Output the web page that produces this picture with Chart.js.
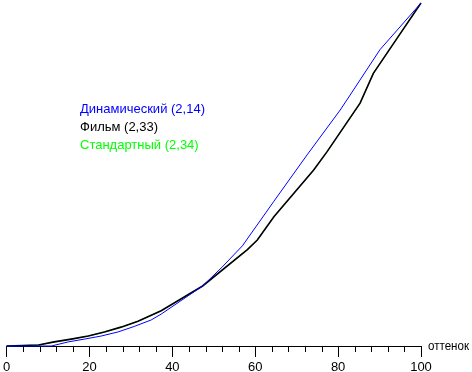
<!DOCTYPE html>
<html>
<head>
<meta charset="utf-8">
<script src="https://cdn.jsdelivr.net/npm/chart.js@4/dist/chart.umd.min.js"></script>
<style>
html,body{margin:0;padding:0;background:#fff;}
canvas{display:block;}
</style>
</head>
<body>
<canvas id="c" width="472" height="372"></canvas>
<script>
const seriesNames = ["Динамический (2,14)", "Фильм (2,33)", "Стандартный (2,34)"];
const seriesColors = ["#0000ff", "#000000", "#00ff00"];
const axisTitle = "оттенок";
const tickLabels = [0, 20, 40, 60, 80, 100];

const dynX = [0, 10.8, 14.9, 18.75, 22.8, 26.9, 30.8, 34.9, 37.3, 47.3, 52.0, 56.9, 64.5, 72.5, 80.5, 82.1, 90.1, 100];
const dynY = [0, 0, 1.2, 2.0, 2.9, 4.1, 5.7, 7.6, 9.3, 17.5, 23.0, 29.2, 42.2, 55.7, 68.8, 71.7, 86.4, 100];

const filmX = [0, 7.7, 11.5, 15.6, 19.7, 23.6, 27.6, 31.7, 37.3, 47.3, 58.1, 60.5, 64.5, 74.1, 77.3, 85.3, 88.5, 94.5, 100];
const filmY = [0, 0.3, 1.2, 2.0, 2.9, 4.1, 5.5, 7.2, 10.3, 17.5, 28.1, 30.9, 37.7, 51.3, 56.6, 70.8, 79.5, 90.2, 100];

const stdX = [0, 7.7, 11.5, 15.6, 19.7, 23.6, 27.6, 31.7, 37.3, 47.3, 58.1, 60.5, 64.5, 74.1, 77.3, 85.3, 88.5, 94.5, 100];
const stdY = [0, 0.3, 1.2, 2.0, 2.9, 4.1, 5.5, 7.2, 10.3, 17.5, 28.1, 30.9, 37.7, 51.3, 56.6, 70.8, 79.5, 90.2, 100];

function pts(xs, ys){ return xs.map((x,i)=>({x:x, y:ys[i]})); }

const FONT = "Liberation Sans, Arial, sans-serif";

const extras = {
  id: 'extras',
  afterDraw(chart){
    const ctx = chart.ctx;
    const xs = chart.scales.x;
    const base = chart.chartArea.bottom;
    ctx.save();
    // minor ticks
    ctx.strokeStyle = '#000';
    ctx.lineWidth = 1;
    for (let v = 0; v <= 100; v += 4) {
      if (tickLabels.includes(v)) continue;
      const px = Math.round(xs.getPixelForValue(v)) + 0.5;
      ctx.beginPath();
      ctx.moveTo(px, base);
      ctx.lineTo(px, base + 6);
      ctx.stroke();
    }
    // axis title
    ctx.font = "13px " + FONT;
    ctx.fillStyle = '#000';
    ctx.textBaseline = 'alphabetic';
    ctx.textAlign = 'left';
    ctx.fillText(axisTitle, xs.right + 7, 350, 41);
    // legend texts
    const ys = [113, 131, 149];
    seriesNames.forEach((n,i)=>{
      ctx.fillStyle = seriesColors[i];
      ctx.fillText(n, 80, ys[i]);
    });
    ctx.restore();
  }
};

new Chart(document.getElementById('c'), {
  type: 'scatter',
  data: {
    datasets: [
      {label: seriesNames[0], data: pts(dynX, dynY), borderColor: seriesColors[0], borderWidth: 1, showLine: true, pointRadius: 0, tension: 0, clip: false},
      {label: seriesNames[1], data: pts(filmX, filmY), borderColor: seriesColors[1], borderWidth: 1.6, showLine: true, pointRadius: 0, tension: 0, clip: false},
      {label: seriesNames[2], data: pts(stdX, stdY), borderColor: seriesColors[2], borderWidth: 1, showLine: true, pointRadius: 0, tension: 0, clip: false}
    ]
  },
  options: {
    responsive: false,
    animation: false,
    devicePixelRatio: 1,
    layout: {padding: {left: 5, right: 51, top: 3, bottom: 0}},
    plugins: {legend: {display: false}, tooltip: {enabled: false}},
    scales: {
      x: {
        type: 'linear', min: 0, max: 100,
        afterFit(scale){ scale.height = 26; },
        border: {display: true, color: '#000', width: 1},
        grid: {
          display: true, drawOnChartArea: false, tickLength: 11,
          tickColor: (c) => (c.tick && tickLabels.includes(c.tick.value)) ? '#000' : 'rgba(0,0,0,0)',
          tickWidth: 1
        },
        ticks: {
          stepSize: 4, autoSkip: false, maxRotation: 0, padding: 3,
          color: '#000', font: {family: FONT, size: 13},
          callback: (v) => tickLabels.includes(v) ? String(v) : ''
        }
      },
      y: {
        type: 'linear', min: 0, max: 100, display: false
      }
    }
  },
  plugins: [extras]
});
</script>
</body>
</html>
